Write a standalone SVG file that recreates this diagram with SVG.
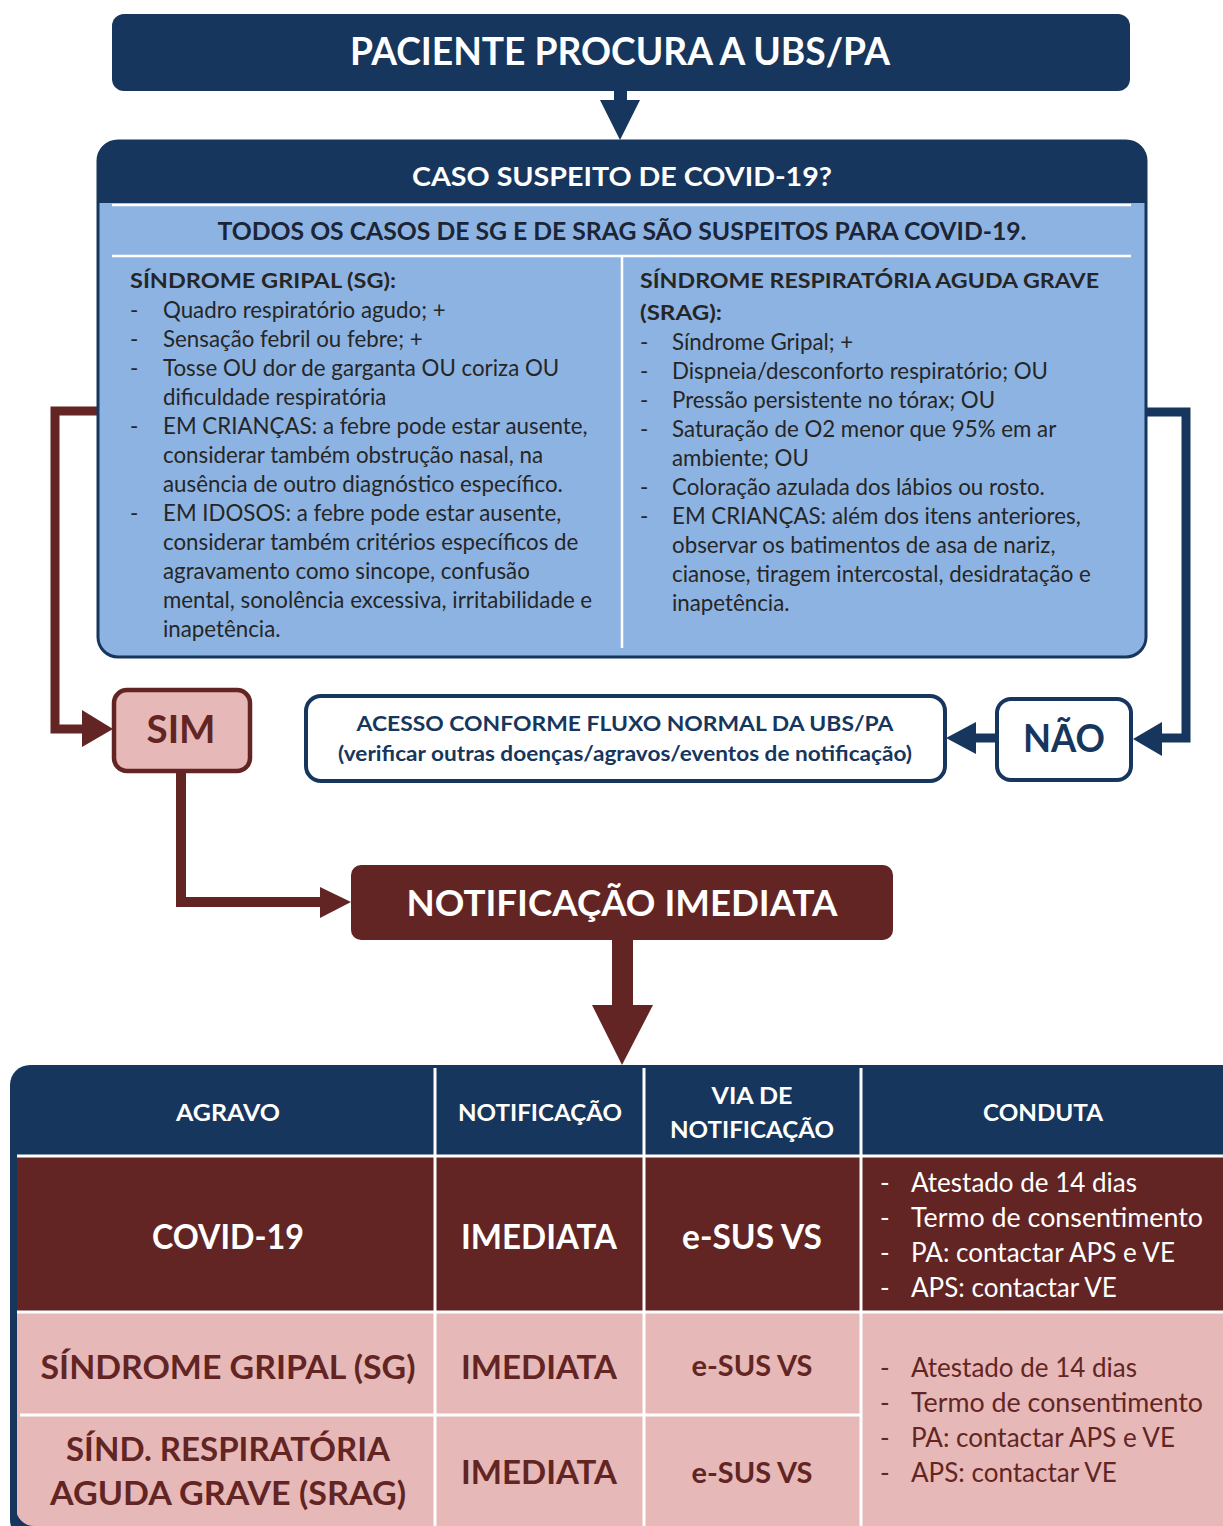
<svg xmlns="http://www.w3.org/2000/svg" width="1223" height="1526" viewBox="0 0 1223 1526">
<style>
text{font-family:Lato,"Open Sans","DejaVu Sans",sans-serif}
.b{font-weight:700}
.m{text-anchor:middle}
.w{fill:#ffffff}
.nv{fill:#17365d}
.mr{fill:#632523}
.dk{fill:#262626}
.body{font-size:22.3px}
.ttl{font-size:21.5px;font-weight:700}
.cd{font-size:26px}
.wl{stroke:#ffffff;fill:none}
</style>
<defs>
<clipPath id="tclip"><rect x="16" y="1100" width="1300" height="426" rx="18"/></clipPath>
</defs>

<g id="connectors">
  <rect x="614" y="88" width="13" height="14" fill="#17365d"/>
  <polygon points="600,100 640,100 620,140" fill="#17365d"/>
  <polyline points="99,411 55,411 55,729 86,729" fill="none" stroke="#632523" stroke-width="9" stroke-linejoin="miter"/>
  <polygon points="82,710 113,729 82,747" fill="#632523"/>
  <polyline points="1146,412 1186,412 1186,738 1158,738" fill="none" stroke="#17365d" stroke-width="9" stroke-linejoin="miter"/>
  <polygon points="1162,722 1133,739 1162,756" fill="#17365d"/>
  <line x1="996" y1="738" x2="972" y2="738" stroke="#17365d" stroke-width="9"/>
  <polygon points="976,722 946,738 976,754" fill="#17365d"/>
  <polyline points="181,772 181,902 324,902" fill="none" stroke="#632523" stroke-width="10" stroke-linejoin="miter"/>
  <polygon points="320,887 351,902 320,918" fill="#632523"/>
  <rect x="612" y="938" width="21" height="69" fill="#632523"/>
  <polygon points="592,1005 653,1005 622,1065" fill="#632523"/>
</g>

<g id="n-start">
  <rect x="112" y="14" width="1018" height="77" rx="12" fill="#17365d"/>
  <text x="620" y="65" class="b m w" font-size="38" textLength="540" lengthAdjust="spacingAndGlyphs">PACIENTE PROCURA A UBS/PA</text>
</g>

<g id="n-suspeito">
  <rect x="98" y="141" width="1048" height="516" rx="20" fill="#8db3e2" stroke="#17365d" stroke-width="3"/>
  <path d="M98,203 V161 Q98,141 118,141 H1126 Q1146,141 1146,161 V203 Z" fill="#17365d"/>
  <text x="622" y="186" class="b m w" font-size="27" textLength="420" lengthAdjust="spacingAndGlyphs">CASO SUSPEITO DE COVID-19?</text>
  <line x1="112" y1="205" x2="1131" y2="205" class="wl" stroke-width="2.5"/>
  <text x="622" y="240" class="b m" fill="#1b2535" font-size="24" textLength="809" lengthAdjust="spacingAndGlyphs">TODOS OS CASOS DE SG E DE SRAG SÃO SUSPEITOS PARA COVID-19.</text>
  <line x1="112" y1="256" x2="1131" y2="256" class="wl" stroke-width="2.5"/>
  <line x1="622" y1="256" x2="622" y2="648" class="wl" stroke-width="2.5"/>

  <text x="130" y="288" class="ttl dk" textLength="266" lengthAdjust="spacingAndGlyphs">SÍNDROME GRIPAL (SG):</text>
  <g class="body dk">
    <text x="130" y="318">-</text><text x="163" y="318">Quadro respiratório agudo; +</text>
    <text x="130" y="347">-</text><text x="163" y="347">Sensação febril ou febre; +</text>
    <text x="130" y="376">-</text><text x="163" y="376">Tosse OU dor de garganta OU coriza OU</text>
    <text x="163" y="405">dificuldade respiratória</text>
    <text x="130" y="434">-</text><text x="163" y="434">EM CRIANÇAS: a febre pode estar ausente,</text>
    <text x="163" y="463">considerar também obstrução nasal, na</text>
    <text x="163" y="492">ausência de outro diagnóstico específico.</text>
    <text x="130" y="521">-</text><text x="163" y="521">EM IDOSOS: a febre pode estar ausente,</text>
    <text x="163" y="550">considerar também critérios específicos de</text>
    <text x="163" y="579">agravamento como sincope, confusão</text>
    <text x="163" y="608">mental, sonolência excessiva, irritabilidade e</text>
    <text x="163" y="637">inapetência.</text>
  </g>

  <text x="640" y="288" class="ttl dk" textLength="459" lengthAdjust="spacingAndGlyphs">SÍNDROME RESPIRATÓRIA AGUDA GRAVE</text>
  <text x="640" y="320" class="ttl dk" textLength="82" lengthAdjust="spacingAndGlyphs">(SRAG):</text>
  <g class="body dk">
    <text x="640" y="350">-</text><text x="672" y="350">Síndrome Gripal; +</text>
    <text x="640" y="379">-</text><text x="672" y="379">Dispneia/desconforto respiratório; OU</text>
    <text x="640" y="408">-</text><text x="672" y="408">Pressão persistente no tórax; OU</text>
    <text x="640" y="437">-</text><text x="672" y="437">Saturação de O2 menor que 95% em ar</text>
    <text x="672" y="466">ambiente; OU</text>
    <text x="640" y="495">-</text><text x="672" y="495">Coloração azulada dos lábios ou rosto.</text>
    <text x="640" y="524">-</text><text x="672" y="524">EM CRIANÇAS: além dos itens anteriores,</text>
    <text x="672" y="553">observar os batimentos de asa de nariz,</text>
    <text x="672" y="582">cianose, tiragem intercostal, desidratação e</text>
    <text x="672" y="611">inapetência.</text>
  </g>
</g>

<g id="n-sim">
  <rect x="114" y="690" width="136" height="81" rx="13" fill="#e6b9b8" stroke="#632523" stroke-width="4.5"/>
  <text x="181" y="743" class="b m mr" font-size="38" textLength="69" lengthAdjust="spacingAndGlyphs">SIM</text>
</g>

<g id="n-acesso">
  <rect x="306" y="696" width="639" height="85" rx="15" fill="#ffffff" stroke="#17365d" stroke-width="4"/>
  <text x="625" y="731" class="b m nv" font-size="20" textLength="537" lengthAdjust="spacingAndGlyphs">ACESSO CONFORME FLUXO NORMAL DA UBS/PA</text>
  <text x="625" y="761" class="b m nv" font-size="20" textLength="574" lengthAdjust="spacingAndGlyphs">(verificar outras doenças/agravos/eventos de notificação)</text>
</g>

<g id="n-nao">
  <rect x="997" y="699" width="134" height="81" rx="14" fill="#ffffff" stroke="#17365d" stroke-width="4"/>
  <text x="1064" y="752" class="b m nv" font-size="38" textLength="82" lengthAdjust="spacingAndGlyphs">NÃO</text>
</g>

<g id="n-notificacao">
  <rect x="351" y="865" width="542" height="75" rx="10" fill="#632523"/>
  <text x="622" y="916" class="b m w" font-size="37" textLength="431" lengthAdjust="spacingAndGlyphs">NOTIFICAÇÃO IMEDIATA</text>
</g>

<g id="n-tabela">
  <rect x="10" y="1065" width="1300" height="475" rx="20" fill="#17365d"/>
  <g clip-path="url(#tclip)">
    <rect x="17" y="1157" width="1210" height="154" fill="#632523"/>
    <rect x="17" y="1311" width="1210" height="220" fill="#e6b9b8"/>
  </g>
  <line x1="17" y1="1156" x2="1223" y2="1156" class="wl" stroke-width="3"/>
  <line x1="17" y1="1312" x2="1223" y2="1312" class="wl" stroke-width="3"/>
  <line x1="20" y1="1415" x2="860" y2="1415" class="wl" stroke-width="3"/>
  <line x1="435" y1="1068" x2="435" y2="1526" class="wl" stroke-width="3"/>
  <line x1="644" y1="1068" x2="644" y2="1526" class="wl" stroke-width="3"/>
  <line x1="861" y1="1068" x2="861" y2="1526" class="wl" stroke-width="3"/>

  <text x="228" y="1121" class="b m w" font-size="23" textLength="104" lengthAdjust="spacingAndGlyphs">AGRAVO</text>
  <text x="540" y="1121" class="b m w" font-size="23" textLength="164" lengthAdjust="spacingAndGlyphs">NOTIFICAÇÃO</text>
  <text x="752" y="1104" class="b m w" font-size="23" textLength="81" lengthAdjust="spacingAndGlyphs">VIA DE</text>
  <text x="752" y="1138" class="b m w" font-size="23" textLength="164" lengthAdjust="spacingAndGlyphs">NOTIFICAÇÃO</text>
  <text x="1043" y="1121" class="b m w" font-size="23" textLength="120" lengthAdjust="spacingAndGlyphs">CONDUTA</text>

  <text x="228" y="1249" class="b m w" font-size="34" textLength="152" lengthAdjust="spacingAndGlyphs">COVID-19</text>
  <text x="539" y="1249" class="b m w" font-size="34" textLength="156" lengthAdjust="spacingAndGlyphs">IMEDIATA</text>
  <text x="752" y="1249" class="b m w" font-size="34" textLength="140" lengthAdjust="spacingAndGlyphs">e-SUS VS</text>
  <g class="cd w">
    <text x="880" y="1192">-</text><text x="911" y="1192">Atestado de 14 dias</text>
    <text x="880" y="1227">-</text><text x="911" y="1227" textLength="292" lengthAdjust="spacingAndGlyphs">Termo de consentimento</text>
    <text x="880" y="1262">-</text><text x="911" y="1262">PA: contactar APS e VE</text>
    <text x="880" y="1297">-</text><text x="911" y="1297">APS: contactar VE</text>
  </g>

  <text x="228" y="1379" class="b m mr" font-size="33" textLength="375" lengthAdjust="spacingAndGlyphs">SÍNDROME GRIPAL (SG)</text>
  <text x="539" y="1379" class="b m mr" font-size="33" textLength="156" lengthAdjust="spacingAndGlyphs">IMEDIATA</text>
  <text x="752" y="1376" class="b m mr" font-size="29" textLength="121" lengthAdjust="spacingAndGlyphs">e-SUS VS</text>
  <text x="228" y="1461" class="b m mr" font-size="33" textLength="324" lengthAdjust="spacingAndGlyphs">SÍND. RESPIRATÓRIA</text>
  <text x="228" y="1505" class="b m mr" font-size="33" textLength="356" lengthAdjust="spacingAndGlyphs">AGUDA GRAVE (SRAG)</text>
  <text x="539" y="1484" class="b m mr" font-size="33" textLength="156" lengthAdjust="spacingAndGlyphs">IMEDIATA</text>
  <text x="752" y="1483" class="b m mr" font-size="29" textLength="121" lengthAdjust="spacingAndGlyphs">e-SUS VS</text>
  <g class="cd mr">
    <text x="880" y="1377">-</text><text x="911" y="1377">Atestado de 14 dias</text>
    <text x="880" y="1412">-</text><text x="911" y="1412" textLength="292" lengthAdjust="spacingAndGlyphs">Termo de consentimento</text>
    <text x="880" y="1447">-</text><text x="911" y="1447">PA: contactar APS e VE</text>
    <text x="880" y="1482">-</text><text x="911" y="1482">APS: contactar VE</text>
  </g>
</g>
</svg>
